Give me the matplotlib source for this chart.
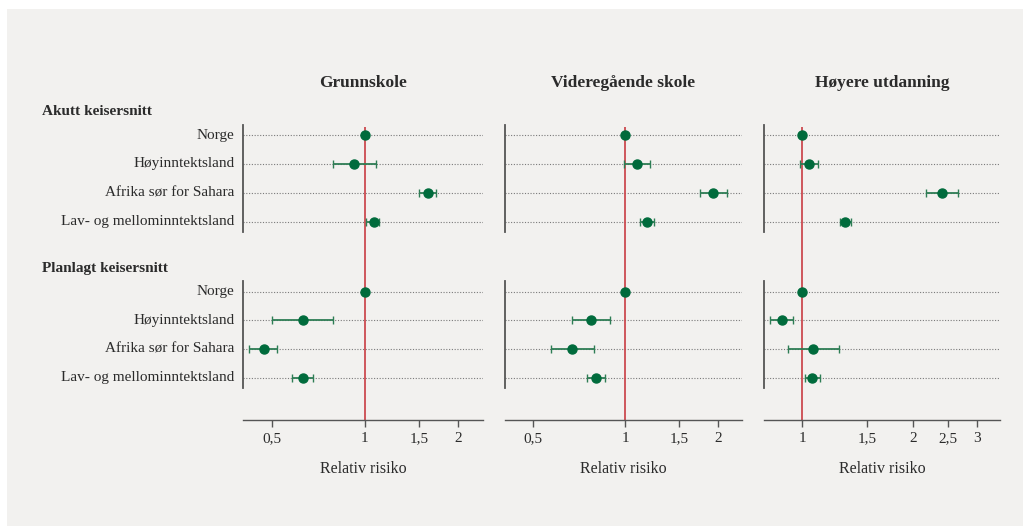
import numpy as np
import matplotlib.pyplot as plt
from matplotlib.patches import Rectangle

# rows (top to bottom within each group)
groups = ["Akutt keisersnitt", "Planlagt keisersnitt"]
regions = ["Norge", "Høyinntektsland", "Afrika sør for Sahara", "Lav- og mellominntektsland"]
panels = ["Grunnskole", "Videregående skole", "Høyere utdanning"]

# relative risk, lower CI, upper CI per panel: Akutt rows then Planlagt rows
rr_grunn = [1.00, 0.92, 1.60, 1.07, 1.00, 0.63, 0.47, 0.63]
lo_grunn = [1.00, 0.79, 1.50, 1.005, 1.00, 0.50, 0.42, 0.58]
hi_grunn = [1.00, 1.085, 1.70, 1.11, 1.00, 0.79, 0.52, 0.68]

rr_vgs = [1.00, 1.09, 1.93, 1.175, 1.00, 0.77, 0.67, 0.80]
lo_vgs = [1.00, 0.99, 1.75, 1.12, 1.00, 0.67, 0.57, 0.75]
hi_vgs = [1.00, 1.20, 2.14, 1.24, 1.00, 0.89, 0.79, 0.86]

rr_hoy = [1.00, 1.04, 2.40, 1.31, 1.00, 0.88, 1.07, 1.065]
lo_hoy = [1.00, 0.985, 2.18, 1.27, 1.00, 0.815, 0.915, 1.017]
hi_hoy = [1.00, 1.10, 2.65, 1.355, 1.00, 0.945, 1.26, 1.12]

ticks_12 = [0.5, 1, 1.5, 2]
ticks_3 = [1, 1.5, 2, 2.5, 3]
tick_labels_12 = ["0,5", "1", "1,5", "2"]
tick_labels_3 = ["1", "1,5", "2", "2,5", "3"]

data = [(rr_grunn, lo_grunn, hi_grunn), (rr_vgs, lo_vgs, hi_vgs), (rr_hoy, lo_hoy, hi_hoy)]
xlims = [(0.403, 2.41), (0.405, 2.40), (0.786, 3.46)]
ticks = [(ticks_12, tick_labels_12), (ticks_12, tick_labels_12), (ticks_3, tick_labels_3)]

ypos = np.array([0, 1, 2, 3, 5.43, 6.4, 7.4, 8.4])

plt.rcParams['font.family'] = ['Liberation Serif', 'DejaVu Serif']
BG = "#f2f1ef"
GREEN = "#006b3c"
RED = "#cc4a50"
TXT = "#2b2b2b"

W, H = 1023, 526
fig = plt.figure(figsize=(W / 100, H / 100), dpi=100)
fig.patch.set_facecolor("white")
fig.add_artist(Rectangle((7 / W, 0), 1 - 7 / W, 1 - 9 / H, transform=fig.transFigure,
                         facecolor=BG, edgecolor="none", zorder=-10))

px_left = [243, 505, 764]
px_right = [483, 742, 1000]
top_px, bot_px = 127, 420

for k in range(3):
    ax = fig.add_axes([px_left[k] / W, 1 - bot_px / H,
                       (px_right[k] - px_left[k]) / W, (bot_px - top_px) / H])
    ax.set_facecolor("none")
    ax.set_xscale("log")
    ax.set_xlim(*xlims[k])
    ax.set_ylim(9.86, -0.28)
    rr, lo, hi = data[k]

    for y in ypos:
        ax.axhline(y, color="#7a7a7a", lw=0.8, ls=(0, (1, 1.5)), zorder=1)
    ax.axvline(1, color=RED, lw=1.3, zorder=2)

    rr = np.array(rr); lo = np.array(lo); hi = np.array(hi)
    ax.errorbar(rr, ypos, xerr=[rr - lo, hi - rr], fmt="none", ecolor="#2e7d55",
                elinewidth=1.3, capsize=3, capthick=1.0, zorder=3)
    ax.plot(rr, ypos, "o", color=GREEN, ms=6.5, zorder=4)

    # left spine in two pieces
    ax.plot([0, 0], [-0.35, 3.35], color="#555555", lw=1.3,
            transform=ax.get_yaxis_transform(), clip_on=False)
    ax.plot([0, 0], [5.05, 8.75], color="#555555", lw=1.3,
            transform=ax.get_yaxis_transform(), clip_on=False)

    for s in ["top", "right", "left"]:
        ax.spines[s].set_visible(False)
    ax.spines["bottom"].set_color("#555555")
    ax.spines["bottom"].set_linewidth(1.0)
    ax.set_yticks([])
    ax.set_xticks(ticks[k][0])
    ax.set_xticklabels(ticks[k][1])
    ax.xaxis.set_minor_locator(plt.NullLocator())
    ax.tick_params(axis="x", colors="#555555", labelcolor=TXT, labelsize=11,
                   length=5, width=1.0, pad=4)
    ax.set_xlabel("Relativ risiko", fontsize=11.5, color=TXT, labelpad=11)
    ax.set_title(panels[k], fontsize=12.5, fontweight="bold", color=TXT, pad=29)

    if k == 0:
        for i, y in enumerate(ypos):
            ax.text(-0.035, y, regions[i % 4], transform=ax.get_yaxis_transform(),
                    ha="right", va="center", fontsize=11, color=TXT)
        ax.text(-201 / 240, -0.82, groups[0], transform=ax.get_yaxis_transform(),
                ha="left", va="center", fontsize=11, fontweight="bold", color=TXT)
        ax.text(-201 / 240, 4.63, groups[1], transform=ax.get_yaxis_transform(),
                ha="left", va="center", fontsize=11, fontweight="bold", color=TXT)

fig.savefig("out.png", dpi=100, facecolor=fig.get_facecolor())
